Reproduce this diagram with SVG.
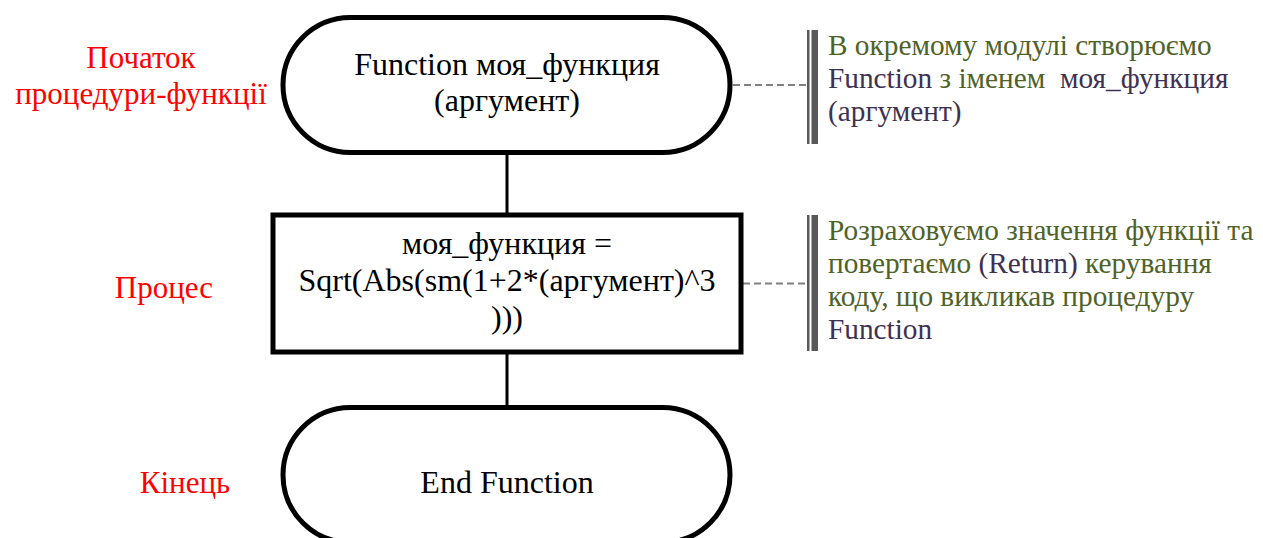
<svg xmlns="http://www.w3.org/2000/svg" width="1263" height="538" viewBox="0 0 1263 538">
<style>
.shape{fill:#fff;stroke:#000;stroke-width:5}
.conn{stroke:#000;stroke-width:3;fill:none}
.dash{stroke:#808080;stroke-width:2;stroke-dasharray:7 4;fill:none}
.bar{fill:#595959}
text{font-family:"Liberation Serif","Times New Roman",serif}
.main{font-size:32px;fill:#000;text-anchor:middle}
.lbl{font-size:31px;fill:#ff0000;text-anchor:middle}
.note{font-size:29.3px}
.g{fill:#4f6228}
.p{fill:#3f3151}
</style>
<rect width="1263" height="538" fill="#fff"/>
<g id="connectors">
<line class="conn" x1="507" y1="155" x2="507" y2="213"/>
<line class="conn" x1="507" y1="354" x2="507" y2="405"/>
<line class="dash" x1="733" y1="85" x2="806" y2="85"/>
<line class="dash" x1="743" y1="283.5" x2="806" y2="283.5"/>
</g>
<g id="start">
<rect class="shape" x="283" y="17.5" width="447" height="135" rx="67.5" ry="67.5"/>
<text class="main" x="507" y="75">Function моя_функция</text>
<text class="main" x="507" y="111">(аргумент)</text>
</g>
<g id="process">
<rect class="shape" x="273" y="215" width="468" height="137"/>
<text class="main" x="507" y="254">моя_функция =</text>
<text class="main" x="507" y="291">Sqrt(Abs(sm(1+2*(аргумент)^3</text>
<text class="main" x="507" y="328">)))</text>
</g>
<g id="end">
<rect class="shape" x="283" y="407.5" width="447" height="135" rx="67.5" ry="67.5"/>
<text class="main" x="507" y="493">End Function</text>
</g>
<g id="label-start">
<text class="lbl" x="141" y="68">Початок</text>
<text class="lbl" x="141" y="104">процедури-функції</text>
</g>
<g id="label-process">
<text class="lbl" x="164" y="298">Процес</text>
</g>
<g id="label-end">
<text class="lbl" x="185" y="493">Кінець</text>
</g>
<g id="note1">
<rect class="bar" x="807" y="30" width="2.5" height="114"/>
<rect class="bar" x="811.5" y="30" width="6.5" height="114"/>
<text class="note" x="828" y="55"><tspan class="g">В окремому модулі створюємо</tspan></text>
<text class="note" x="828" y="88"><tspan class="p">Function</tspan><tspan class="g"> з іменем&#160; </tspan><tspan class="p">моя_функция</tspan></text>
<text class="note p" x="828" y="121">(аргумент)</text>
</g>
<g id="note2">
<rect class="bar" x="807" y="215" width="2.5" height="136"/>
<rect class="bar" x="811.5" y="215" width="6.5" height="136"/>
<text class="note g" x="828" y="240">Розраховуємо значення функції та</text>
<text class="note" x="828" y="273"><tspan class="g">повертаємо </tspan><tspan class="p">(Return)</tspan><tspan class="g"> керування</tspan></text>
<text class="note g" x="828" y="306">коду, що викликав процедуру</text>
<text class="note p" x="828" y="339">Function</text>
</g>
</svg>
